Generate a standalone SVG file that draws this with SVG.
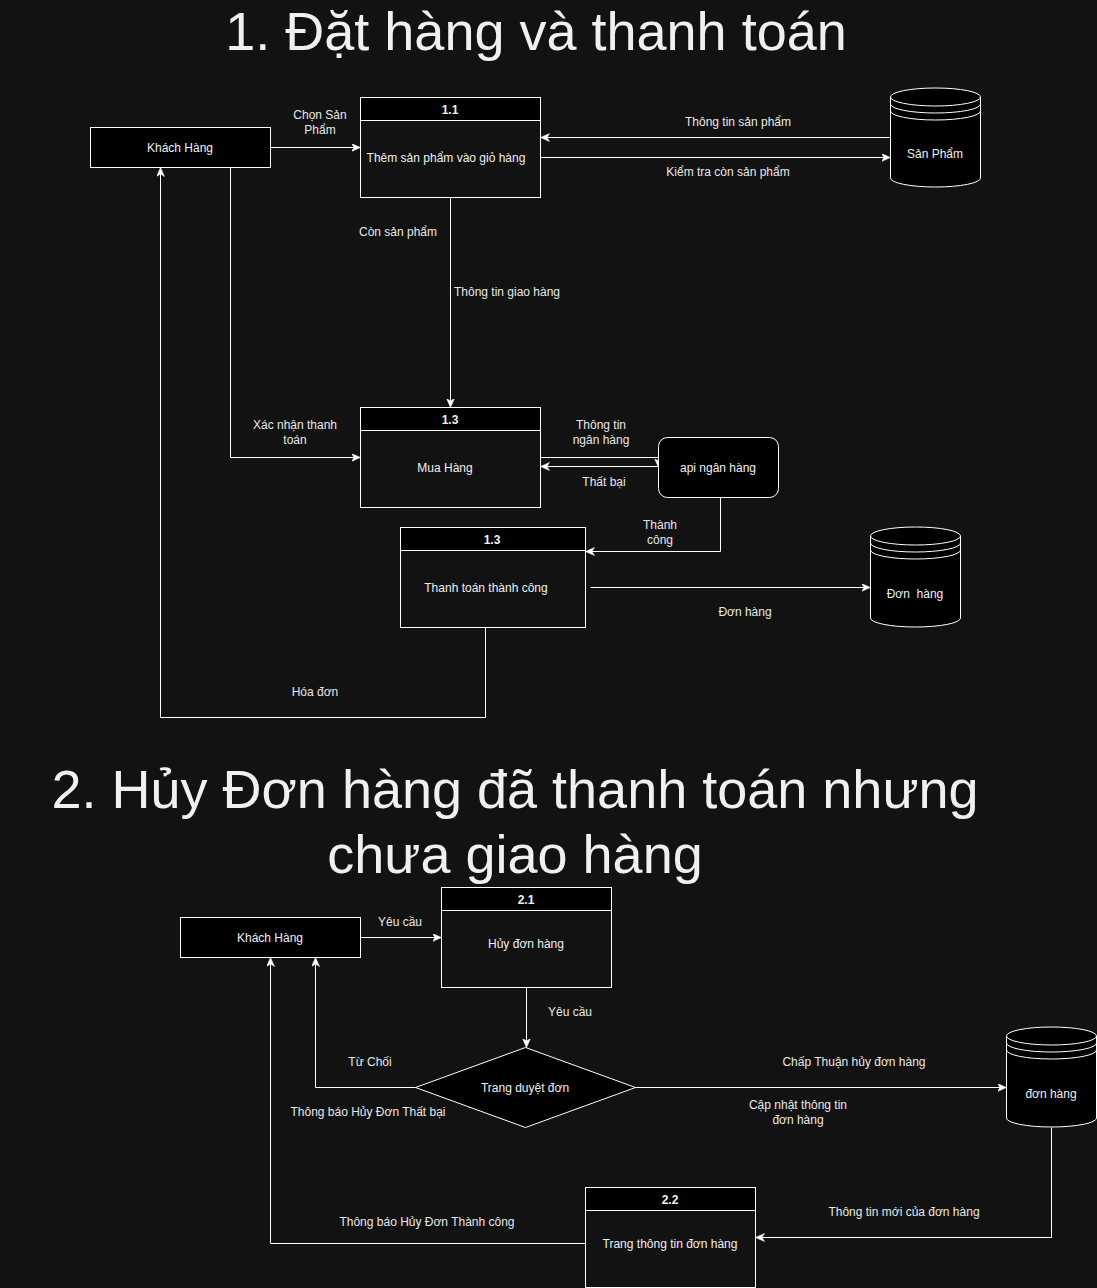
<svg xmlns="http://www.w3.org/2000/svg" width="1097" height="1288" viewBox="0 0 1097 1288">
<defs>
<style>
.t{font-family:"Liberation Sans",Arial,Helvetica,sans-serif;font-size:12px;fill:#f0f0f0;text-anchor:middle;dominant-baseline:central}
.hd{font-weight:bold}
.lb{fill:#e8e8e8}
.title{font-family:"Liberation Sans",Arial,Helvetica,sans-serif;font-size:54px;fill:#f0f0f0;text-anchor:middle}
.n{fill:#000;stroke:#fff;stroke-width:1}
.body{fill:#121212;stroke:#fff;stroke-width:1}
.e{fill:none;stroke:#fff;stroke-width:1;marker-end:url(#arr)}
.ln{fill:none;stroke:#fff;stroke-width:1}
</style>
<marker id="arr" markerWidth="12" markerHeight="10" refX="9" refY="4" orient="auto" markerUnits="userSpaceOnUse">
<path d="M0,0 L9,4 L0,8 L2.5,4 Z" fill="#fff" stroke="#fff" stroke-width="0.5"/>
</marker>
</defs>
<rect x="0" y="0" width="1097" height="1288" fill="#121212"/>

<text class="title" x="536" y="50">1. Đặt hàng và thanh toán</text>
<text class="title" x="515" y="808">2. Hủy Đơn hàng đã thanh toán nhưng</text>
<text class="title" x="515" y="873">chưa giao hàng</text>

<g id="connectors">
<path class="e" d="M270.5,147.5 H360.5"/>
<path class="e" d="M890.5,137.5 H540.5"/>
<path class="e" d="M540.5,157.5 H890.5"/>
<path class="e" d="M450.5,197.5 V407.5"/>
<path class="e" d="M230.5,167.5 V457.5 H360.5"/>
<path class="e" d="M540.5,457.5 H658.5 V467.5"/>
<path class="e" d="M658.5,466.5 H540.5"/>
<path class="e" d="M720.5,497.5 V551.5 H585.5"/>
<path class="e" d="M590.5,587.5 H870.5"/>
<path class="e" d="M485.5,627.5 V717.5 H160.5 V167.5"/>
<path class="e" d="M360.5,937.5 H441.5"/>
<path class="e" d="M526.5,987.5 V1047.5"/>
<path class="e" d="M415.5,1087.5 H315.5 V957.5"/>
<path class="e" d="M635.5,1087.5 H1006.5"/>
<path class="e" d="M1051.5,1127.5 V1237.5 H755.5"/>
<path class="e" d="M585.5,1243.5 H270.5 V957.5"/>
</g>

<g id="edge-labels">
<text class="t lb" x="320" y="115">Chọn Sản</text>
<text class="t lb" x="320" y="130">Phẩm</text>
<text class="t lb" x="738" y="122">Thông tin sản phẩm</text>
<text class="t lb" x="728" y="172">Kiểm tra còn sản phẩm</text>
<text class="t lb" x="398" y="232">Còn sản phẩm</text>
<text class="t lb" x="507" y="292">Thông tin giao hàng</text>
<text class="t lb" x="295" y="425">Xác nhận thanh</text>
<text class="t lb" x="295" y="440">toán</text>
<text class="t lb" x="601" y="425">Thông tin</text>
<text class="t lb" x="601" y="440">ngân hàng</text>
<text class="t lb" x="604" y="482">Thất bại</text>
<text class="t lb" x="660" y="525">Thành</text>
<text class="t lb" x="660" y="540">công</text>
<text class="t lb" x="745" y="612">Đơn hàng</text>
<text class="t lb" x="315" y="692">Hóa đơn</text>
<text class="t lb" x="400" y="922">Yêu cầu</text>
<text class="t lb" x="570" y="1012">Yêu cầu</text>
<text class="t lb" x="370" y="1062">Từ Chối</text>
<text class="t lb" x="368" y="1112">Thông báo Hủy Đơn Thất bại</text>
<text class="t lb" x="854" y="1062">Chấp Thuận hủy đơn hàng</text>
<text class="t lb" x="798" y="1105">Cập nhật thông tin</text>
<text class="t lb" x="798" y="1120">đơn hàng</text>
<text class="t lb" x="904" y="1212">Thông tin mới của đơn hàng</text>
<text class="t lb" x="427" y="1222">Thông báo Hủy Đơn Thành công</text>
</g>

<g id="khach-hang-1">
<rect class="n" x="90.5" y="127.5" width="180" height="40"/>
<text class="t" x="180" y="148">Khách Hàng</text>
</g>

<g id="p1-1">
<rect class="body" x="360.5" y="97.5" width="180" height="100"/>
<rect class="n" x="360.5" y="97.5" width="180" height="23"/>
<text class="t hd" x="450" y="110">1.1</text>
<text class="t" x="446" y="158">Thêm sản phẩm vào giỏ hàng</text>
</g>

<g id="san-pham">
<path class="n" d="M890.5,97 A45,9 0 0 1 980.5,97 V178 A45,9 0 0 1 890.5,178 Z"/>
<path class="ln" d="M890.5,97 A45,9 0 0 0 980.5,97 M890.5,104 A45,9 0 0 0 980.5,104 M890.5,111 A45,9 0 0 0 980.5,111"/>
<text class="t" x="935" y="154">Sản Phẩm</text>
</g>

<g id="p1-3-mua">
<rect class="body" x="360.5" y="407.5" width="180" height="100"/>
<rect class="n" x="360.5" y="407.5" width="180" height="23"/>
<text class="t hd" x="450" y="420">1.3</text>
<text class="t" x="445" y="468">Mua Hàng</text>
</g>

<g id="api">
<rect class="n" x="658.5" y="437.5" width="120" height="60" rx="9"/>
<text class="t" x="718" y="468">api ngân hàng</text>
</g>

<g id="p1-3-thanhtoan">
<rect class="body" x="400.5" y="527.5" width="185" height="100"/>
<rect class="n" x="400.5" y="527.5" width="185" height="23"/>
<text class="t hd" x="492" y="540">1.3</text>
<text class="t" x="486" y="588">Thanh toán thành công</text>
</g>

<g id="don-hang-1">
<path class="n" d="M870.5,536 A45,9 0 0 1 960.5,536 V618 A45,9 0 0 1 870.5,618 Z"/>
<path class="ln" d="M870.5,536 A45,9 0 0 0 960.5,536 M870.5,543 A45,9 0 0 0 960.5,543 M870.5,550 A45,9 0 0 0 960.5,550"/>
<text class="t" x="915" y="594" xml:space="preserve">Đơn  hàng</text>
</g>

<g id="khach-hang-2">
<rect class="n" x="180.5" y="917.5" width="180" height="40"/>
<text class="t" x="270" y="938">Khách Hàng</text>
</g>

<g id="p2-1">
<rect class="body" x="441.5" y="887.5" width="170" height="100"/>
<rect class="n" x="441.5" y="887.5" width="170" height="23"/>
<text class="t hd" x="526" y="900">2.1</text>
<text class="t" x="526" y="944">Hủy đơn hàng</text>
</g>

<g id="duyet-don">
<polygon class="n" points="525.5,1047.5 635.5,1087.5 525.5,1127.5 415.5,1087.5"/>
<text class="t" x="525" y="1088">Trang duyệt đơn</text>
</g>

<g id="don-hang-2">
<path class="n" d="M1006.5,1036 A45,9 0 0 1 1096.5,1036 V1118 A45,9 0 0 1 1006.5,1118 Z"/>
<path class="ln" d="M1006.5,1036 A45,9 0 0 0 1096.5,1036 M1006.5,1043 A45,9 0 0 0 1096.5,1043 M1006.5,1050 A45,9 0 0 0 1096.5,1050"/>
<text class="t" x="1051" y="1094">đơn hàng</text>
</g>

<g id="p2-2">
<rect class="body" x="585.5" y="1187.5" width="170" height="100"/>
<rect class="n" x="585.5" y="1187.5" width="170" height="23"/>
<text class="t hd" x="670" y="1200">2.2</text>
<text class="t" x="670" y="1244">Trang thông tin đơn hàng</text>
</g>
</svg>
